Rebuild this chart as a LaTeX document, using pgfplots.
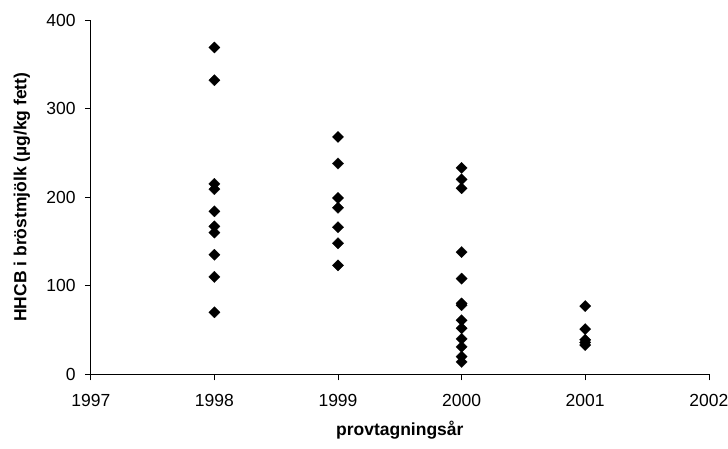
\documentclass[border=0pt]{standalone}
\usepackage{pgfplots}
\pgfplotsset{compat=1.18}
\usepackage{fontspec}
\setmainfont{Liberation Sans}
\begin{document}
\begin{tikzpicture}
\begin{axis}[
  at={(0,0)}, anchor=south west,
  scale only axis,
  width=618pt, height=354.3pt,
  xmin=1997, xmax=2002,
  ymin=0, ymax=400,
  xtick={1997,1998,1999,2000,2001,2002},
  ytick={0,100,200,300,400},
  axis x line*=bottom,
  axis y line*=left,
  axis line style={black, line width=0.8pt, -},
  tick align=outside,
  major tick length=6pt,
  tick style={black, line width=0.6pt},
  /pgf/number format/1000 sep={},
  /pgf/number format/assume math mode=true,
  tick label style={font=\fontsize{17.5}{20}\selectfont, inner sep=0pt},
  yticklabel style={xshift=-9pt},
  xticklabel style={yshift=-13.5pt},
  xlabel={provtagningsår},
  ylabel={HHCB i bröstmjölk (µg/kg fett)},
  label style={font=\fontsize{17.5}{20}\selectfont\bfseries},
  xlabel style={at={(axis description cs:0.5,0)}, anchor=center, yshift=-56pt},
  ylabel style={at={(axis description cs:0,0.5)}, anchor=center, yshift=69pt},
  clip=false
]
\addplot[only marks, mark=square*, mark size=4pt,
  mark options={rotate=45, fill=black, draw=black, line width=0.2pt}]
  coordinates {
  (1998,369) (1998,332) (1998,215) (1998,209) (1998,184)
  (1998,167) (1998,160) (1998,135) (1998,110) (1998,70)
  (1999,268) (1999,238) (1999,199) (1999,188) (1999,166)
  (1999,148) (1999,123)
  (2000,233) (2000,220) (2000,210) (2000,138) (2000,108)
  (2000,80) (2000,78) (2000,61) (2000,52) (2000,40)
  (2000,31) (2000,20) (2000,14)
  (2001,77) (2001,51) (2001,39) (2001,36) (2001,33)
  };
\end{axis}
\pgfresetboundingbox
\useasboundingbox (-90.8pt,-73.7pt) rectangle (637.2pt,374.3pt);
\end{tikzpicture}
\end{document}
